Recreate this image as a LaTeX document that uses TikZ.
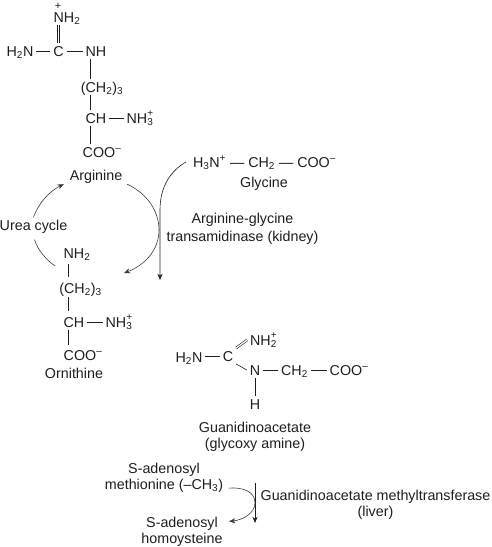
\documentclass[tikz,border=0pt]{standalone}
\usepackage{fontspec}
\setmainfont{Liberation Sans}
\usetikzlibrary{arrows.meta,positioning}
\definecolor{cink}{HTML}{1E1E1E}
\definecolor{ccurve}{HTML}{3A3A3A}
\tikzset{>={Stealth[length=2.2mm,width=1.8mm]},
  atom/.style={inner sep=0pt,outer sep=3pt,text height=10pt,text depth=0pt,text=cink},
  lbl/.style={inner sep=0pt,outer sep=3pt,align=center,text=cink},
  bond/.style={line width=0.6pt,draw=cink},
  crv/.style={line width=0.6pt,draw=ccurve}}
\newcommand{\chsub}[1]{\textsubscript{#1}}
\newcommand{\chsup}[1]{\textsuperscript{#1}}
\newcommand{\chboth}[2]{\rlap{\raisebox{1pt}{\textsuperscript{#2}}}\textsubscript{#1}}

\begin{document}
\begin{tikzpicture}[x=1pt,y=-1pt,font=\fontsize{14.3}{16}\selectfont]
\useasboundingbox (0,0) rectangle (491,547);

% ================= arginine =================
\node[atom,text height=7pt,font=\fontsize{11}{12}\selectfont] (argplus) at (58,5.5) {+};
\node[atom] (arnh) at (67,17) {NH\chsub{2}};
\node[atom] (arc) at (58.5,51) {C};
\node[atom] (arhn) at (20,51) {H\chsub{2}N};
\node[atom] (arn) at (96,51) {NH};
\node[atom] (arch) at (102,87) {(CH\chsub{2})\chsub{3}};
\node[atom] (arcc) at (96,118) {CH};
\node[atom] (arnt) at (140,118) {NH\chboth{3}{+}};
\node[atom] (arcoo) at (102,152) {COO\chsup{–}};
\node[lbl] (arg) at (96,177) {Arginine};
\draw[bond,double,double distance=1.7pt] (arc) -- (arc|-arnh.south);
\draw[bond] (arhn) -- (arc);
\draw[bond] (arc) -- (arn);
\draw[bond] ([xshift=-5.5pt]arn.south) -- ([xshift=-5.5pt]arn.south|-arch.north);
\draw[bond] ([xshift=-5.5pt]arcc.north) -- ([xshift=-5.5pt]arcc.north|-arch.south);
\draw[bond] (arcc) -- (arnt);
\draw[bond] ([xshift=-5.5pt]arcc.south) -- ([xshift=-5.5pt]arcc.south|-arcoo.north);

% ================= urea cycle and ornithine =================
\node[lbl] (urea) at (33.5,227) {Urea cycle};
\node[atom] (ornh) at (77,253) {NH\chsub{2}};
\node[atom] (orch) at (80.5,288) {(CH\chsub{2})\chsub{3}};
\node[atom] (orcc) at (74,322) {CH};
\node[atom] (ornt) at (119,322) {NH\chboth{3}{+}};
\node[atom] (orcoo) at (83,355) {COO\chsup{–}};
\node[lbl] (orn) at (74,373) {Ornithine};
\coordinate (ornin) at (124,273);
\draw[bond] (68.5,264) -- (68.5,277);
\draw[bond] (68.5,297) -- (68.5,311);
\draw[bond] (orcc) -- (ornt);
\draw[bond] (68.5,330) -- (68.5,345);
\draw[crv,->] (urea.north) .. controls (39,202) and (50,191) .. ([shift={(-3,-2.5)}]arg.south west);
\draw[crv] ([shift={(-5.5,5)}]ornh.south west) .. controls (45,259) and (38,250) .. ([shift={(1,3)}]urea.south);
\draw[crv,->] ([shift={(2,-2.5)}]arg.south east) .. controls (146,193) and (159,210) .. (159,230) .. controls (159,250) and (145,265) .. (ornin);

% ================= glycine =================
\node[atom,anchor=west,outer sep=0pt] (gly) at (193,162) {H\chsub{3}N\chsup{+} — CH\chsub{2} — COO\chsup{–}};
\node[lbl] (glyname) at (264,184) {Glycine};
\node[lbl,font=\fontsize{14.3}{18}\selectfont] (enza) at (242.5,229) {Arginine-glycine\\transamidinase (kidney)};
\coordinate (glyout) at (160,280);
\draw[crv,->,draw=cink] ([xshift=-7pt]gly.west) .. controls (172,170) and (160,185) .. (160,210) -- (glyout);

% ================= guanidinoacetate =================
\node[atom] (gahn) at (189,357) {H\chsub{2}N};
\node[atom] (gac) at (228,356) {C};
\node[atom] (gant) at (263.5,340) {NH\chboth{2}{+}};
\node[atom] (gan) at (255,370) {N};
\node[atom] (gach) at (294.5,370) {CH\chsub{2}};
\node[atom] (gacoo) at (349,370) {COO\chsup{–}};
\node[atom] (gah) at (255,404) {H};
\node[lbl] (ganame) at (255,437) {Guanidinoacetate\\(glycoxy amine)};
\draw[bond] (gahn.east|-gac) -- (gac);
\draw[bond,double,double distance=1.3pt] (gac.north east) -- (gant.west);
\draw[bond] (gac.south east) -- (gan.west);
\draw[bond] (gan) -- (gach);
\draw[bond] (gach) -- (gacoo);
\draw[bond] (gan) -- (gah);

% ================= methylation =================
\node[lbl] (sam) at (164,478) {S-adenosyl\\methionine (–CH\chsub{3})};
\node[lbl] (sah) at (182,532) {S-adenosyl\\homoysteine};
\node[lbl] (enzb) at (375.5,505) {Guanidinoacetate methyltransferase\\(liver)};
\coordinate (stepin) at (255,483);
\coordinate (stepout) at (255,523);
\draw[crv,draw=cink,->] (stepin) -- (stepout);
\draw[crv,->] ([shift={(2.5,-7.5)}]sam.south east) .. controls (242,487) and (255,491) .. (255,503) .. controls (255,513) and (243,520) .. ([shift={(3.5,7)}]sah.north east);

\end{tikzpicture}
\end{document}
